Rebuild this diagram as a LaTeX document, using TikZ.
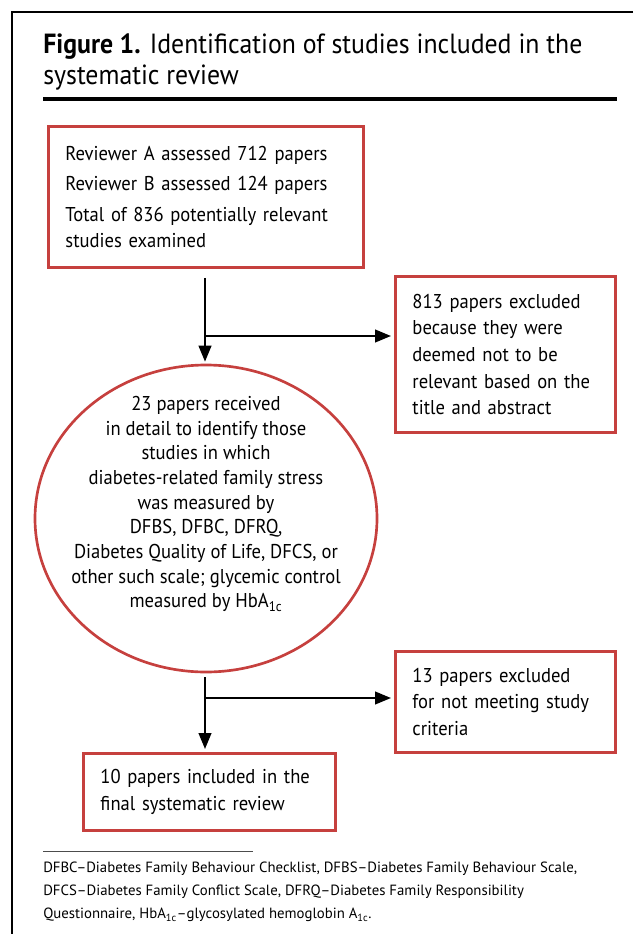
\documentclass[tikz,border=0pt]{standalone}
\usepackage{fontspec}
\setmainfont{PT Sans}[FakeStretch=0.93]
\newfontfamily\notefont{PT Sans}
\usepackage{xcolor}
\usetikzlibrary{shapes.geometric, arrows.meta, positioning, calc}
\definecolor{boxred}{RGB}{198,64,62}
\newdimen\pxu
\pxu=0.75pt

\begin{document}
\begin{tikzpicture}[
    x=0.75pt, y=-0.75pt,
    box/.style={
        rectangle,
        draw=boxred,
        line width=2.2pt,
        align=left,
        inner xsep=17\pxu,
        inner ysep=0pt,
        anchor=north west,
        font=\fontsize{15}{19.9}\selectfont
    },
    oval/.style={
        ellipse,
        draw=boxred,
        line width=2pt,
        inner sep=0pt,
        minimum width=342\pxu,
        minimum height=307\pxu
    },
    arrow/.style={-{Triangle[length=12pt, width=9.5pt]}, line width=1.6pt},
    note/.style={inner sep=0pt, anchor=north west, align=left}
]
\useasboundingbox (0,0) rectangle (633,934);

% Frame and heading
\draw[line width=1.2pt] (633,12) -- (12,12) -- (12,934);
\node[note, font=\fontsize{20.8}{23.25}\selectfont] (title) at (43,33)
    {\textbf{Figure 1.} Identification of studies included in the\\systematic review};
\draw[line width=3pt] (43,99) -- (617,99);

% Screening
\node[box, minimum width=315\pxu, minimum height=141\pxu, text width=281\pxu] (screened) at (47,125)
    {Reviewer A assessed 712 papers\\[3pt]
     Reviewer B assessed 124 papers\\[3pt]
     Total of 836 potentially relevant\\
     studies examined};

% First exclusion
\node[box, minimum width=220\pxu, minimum height=156\pxu, text width=186\pxu] (excluded1) at (394,275)
    {813 papers excluded\\
     because they were\\
     deemed not to be\\
     relevant based on the\\
     title and abstract};

% Full-text review
\node[oval] (fulltext) at (206,518.5) {};
\node[align=center, inner sep=0pt, font=\fontsize{15}{18.5}\selectfont] (fulltextlabel) at (206,504)
    {23 papers received\\
     in detail to identify those\\
     studies in which\\
     diabetes-related family stress\\
     was measured by\\
     DFBS, DFBC, DFRQ,\\
     Diabetes Quality of Life, DFCS, or\\
     other such scale; glycemic control\\
     measured by HbA\textsubscript{1c}};

% Second exclusion
\node[box, minimum width=220\pxu, minimum height=101\pxu, text width=186\pxu] (excluded2) at (394,650)
    {13 papers excluded\\
     for not meeting study\\
     criteria};

% Included
\node[box, minimum width=252\pxu, minimum height=77\pxu, text width=218\pxu] (included) at (82,752)
    {10 papers included in the\\
     final systematic review};

% Arrows
\coordinate (split1) at (205,336);
\coordinate (split2) at (205,698);
\draw[arrow, shorten <=9\pxu, shorten >=2\pxu] (screened.south -| split1) -- (split1 |- fulltext.north);
\draw[arrow, shorten >=3\pxu] (split1) -- (split1 -| excluded1.west);
\draw[arrow, shorten <=4\pxu, shorten >=3\pxu] (split2 |- fulltext.south) -- (split2 |- included.north);
\draw[arrow, shorten >=3\pxu] (split2) -- (split2 -| excluded2.west);

% Footnote
\draw[line width=0.6pt, black!70] (43,851) -- (253,851);
\node[note, font=\notefont\fontsize{11.1}{17.25}\selectfont] (footnote) at (43,862)
    {DFBC–Diabetes Family Behaviour Checklist, DFBS–Diabetes Family Behaviour Scale,\\
     DFCS–Diabetes Family Conflict Scale, DFRQ–Diabetes Family Responsibility\\
     Questionnaire, HbA\textsubscript{1c}–glycosylated hemoglobin A\textsubscript{1c}.};

\end{tikzpicture}
\end{document}
